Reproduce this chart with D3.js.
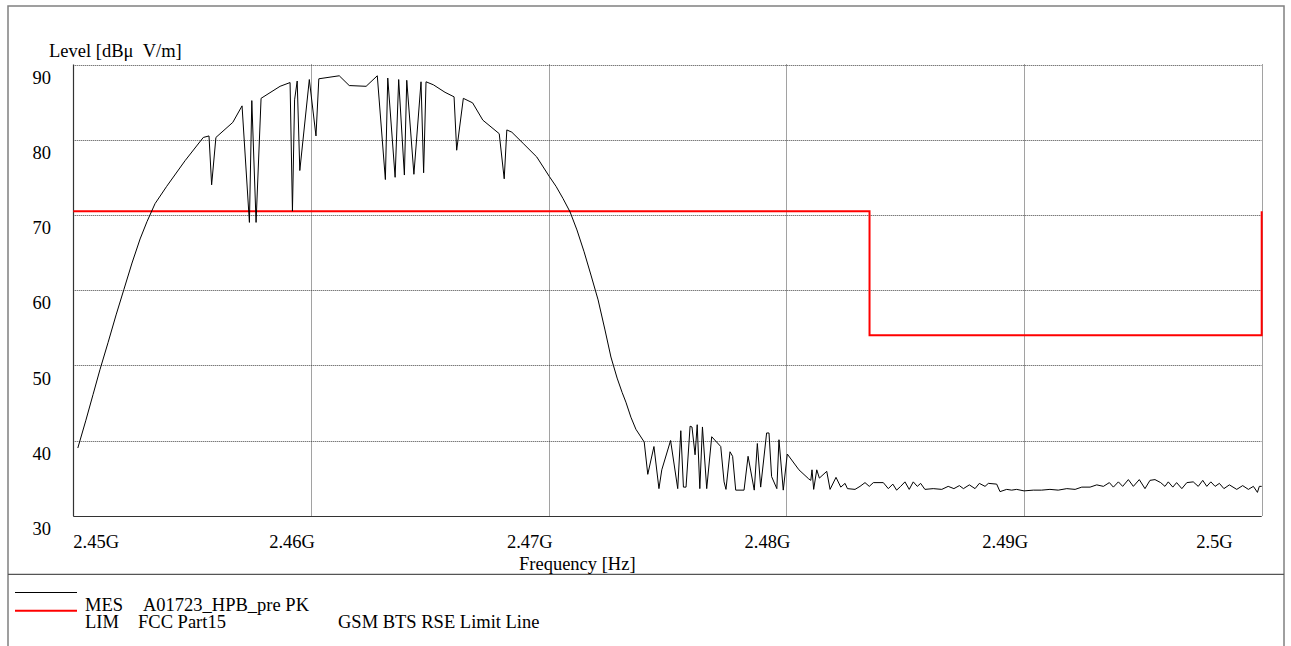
<!DOCTYPE html>
<html>
<head>
<meta charset="utf-8">
<script src="https://cdn.jsdelivr.net/npm/d3@7/dist/d3.min.js"></script>
<style>
  html, body { margin: 0; padding: 0; background: #fff; }
  svg { display: block; }
</style>
</head>
<body>
<svg id="chart" width="1291" height="646"></svg>
<script>
// ---- data ----
const measFreqMHz = [
  2450.19, 2450.53, 2450.83, 2451.12, 2451.46, 2451.80, 2452.13, 2452.47, 2452.81, 2453.10,
  2453.44, 2453.93, 2454.70, 2455.47, 2455.71, 2455.82, 2456.00, 2456.71, 2457.10, 2457.41,
  2457.51, 2457.69, 2457.90, 2458.70, 2459.12, 2459.22, 2459.31, 2459.42, 2459.53, 2459.93,
  2460.21, 2460.33, 2461.19, 2461.61, 2462.32, 2462.79, 2463.13, 2463.23, 2463.54, 2463.69,
  2463.93, 2464.03, 2464.33, 2464.63, 2464.74, 2464.84, 2465.15, 2465.64, 2466.02, 2466.13,
  2466.41, 2466.80, 2467.23, 2467.92, 2468.13, 2468.24, 2468.45, 2468.93, 2469.50, 2470.03,
  2470.31, 2470.60, 2470.90, 2471.19, 2471.49, 2471.78, 2472.08, 2472.37, 2472.62, 2472.88,
  2473.09, 2473.25, 2473.46, 2473.67, 2474.02, 2474.17, 2474.43, 2474.64, 2474.76, 2475.13,
  2475.43, 2475.56, 2475.67, 2475.78, 2475.95, 2476.03, 2476.16, 2476.25, 2476.36, 2476.47,
  2476.65, 2476.86, 2477.24, 2477.38, 2477.46, 2477.63, 2477.74, 2477.87, 2478.22, 2478.39,
  2478.65, 2478.78, 2478.92, 2479.17, 2479.27, 2479.38, 2479.60, 2479.69, 2479.87, 2480.04,
  2480.53, 2480.94, 2481.03, 2481.08, 2481.15, 2481.28, 2481.39, 2481.70, 2481.84, 2482.09,
  2482.29, 2482.47, 2482.57, 2482.89, 2483.10, 2483.31, 2483.49, 2483.66, 2484.08, 2484.29,
  2484.48, 2484.64, 2484.81, 2484.99, 2485.17, 2485.34, 2485.51, 2485.65, 2485.83, 2486.18,
  2486.54, 2486.81, 2487.05, 2487.28, 2487.45, 2487.70, 2487.94, 2488.12, 2488.36, 2488.50,
  2488.85, 2488.99, 2489.27, 2489.48, 2489.69, 2490.00, 2490.39, 2490.74, 2491.09, 2491.44,
  2491.80, 2492.15, 2492.43, 2492.78, 2493.06, 2493.34, 2493.59, 2493.76, 2493.97, 2494.15,
  2494.39, 2494.60, 2494.85, 2495.09, 2495.30, 2495.51, 2495.75, 2495.93, 2496.07, 2496.26,
  2496.42, 2496.64, 2496.85, 2497.12, 2497.33, 2497.52, 2497.69, 2497.86, 2498.04, 2498.22,
  2498.41, 2498.64, 2498.95, 2499.20, 2499.44, 2499.65, 2499.82, 2499.90, 2500.00
];
const measLevelDb = [
  39.0, 42.7, 46.1, 49.4, 53.0, 56.7, 60.1, 63.6, 66.8, 69.1,
  71.5, 73.8, 77.2, 80.3, 80.5, 74.0, 80.3, 82.3, 84.5, 69.0,
  85.2, 69.0, 85.5, 87.1, 87.6, 70.5, 85.3, 87.8, 75.9, 88.0,
  80.5, 88.1, 88.5, 87.2, 87.1, 88.5, 74.7, 88.2, 75.0, 88.0,
  75.3, 87.9, 75.4, 87.7, 75.6, 87.7, 87.3, 86.3, 85.7, 78.6,
  85.5, 84.9, 82.6, 80.8, 74.8, 81.3, 81.0, 79.5, 77.7, 75.1,
  73.8, 72.2, 70.4, 68.0, 65.1, 62.0, 58.7, 54.7, 51.1, 48.3,
  46.4, 45.1, 43.1, 41.5, 39.8, 35.5, 39.2, 33.6, 36.1, 40.0,
  33.6, 41.3, 33.8, 33.8, 41.9, 41.8, 38.1, 42.1, 33.6, 41.8,
  33.6, 40.5, 39.2, 34.5, 33.5, 38.5, 37.9, 33.4, 33.4, 37.9,
  33.4, 39.6, 33.8, 41.0, 41.0, 35.2, 33.6, 40.1, 33.4, 38.2,
  36.1, 34.9, 34.7, 36.1, 33.5, 36.1, 35.0, 35.9, 33.5, 35.1,
  33.8, 34.3, 33.6, 33.5, 33.9, 34.4, 33.9, 34.4, 34.4, 33.6,
  34.2, 33.4, 33.9, 34.5, 33.5, 34.5, 33.9, 34.3, 33.5, 33.6,
  33.5, 33.9, 33.6, 34.0, 33.6, 34.1, 33.6, 34.3, 33.9, 34.3,
  34.2, 33.2, 33.5, 33.4, 33.5, 33.3, 33.4, 33.4, 33.5, 33.4,
  33.6, 33.5, 33.8, 33.8, 34.1, 33.9, 34.4, 33.8, 34.5, 33.9,
  34.8, 33.9, 34.8, 33.6, 34.7, 34.8, 34.4, 33.9, 34.5, 33.8,
  34.4, 33.6, 34.4, 34.5, 33.9, 34.7, 33.9, 34.5, 33.9, 34.3,
  33.6, 34.1, 33.5, 34.0, 33.5, 33.9, 33.1, 33.9, 33.9
];
const limitFreqMHz = [2450, 2483.5, 2483.5, 2500, 2500];
const limitLevelDb = [70.5, 70.5, 54, 54, 70.5];

const xTickValues = [2450, 2460, 2470, 2480, 2490, 2500];
const xTickLabels = ["2.45G", "2.46G", "2.47G", "2.48G", "2.49G", "2.5G"];
const yTickValues = [30, 40, 50, 60, 70, 80, 90];
const yTickLabels = ["30", "40", "50", "60", "70", "80", "90"];

const yAxisTitle = "Level [dBμ\u00a0 V/m]";
const xAxisTitle = "Frequency [Hz]";
const legendRows = [
  { key: "MES", name: "A01723_HPB_pre PK", extra: "" },
  { key: "LIM", name: "FCC Part15", extra: "GSM BTS RSE Limit Line" }
];

// ---- layout ----
const FONT = "'Liberation Serif', Tinos, 'Times New Roman', 'DejaVu Serif', serif";
const svg = d3.select("#chart").attr("font-family", FONT);
const plot = { left: 73.3, right: 1261.7, top: 64.5, bottom: 515.7 };
const x = d3.scaleLinear().domain([2450, 2500]).range([plot.left, plot.right]);
const y = d3.scaleLinear().domain([30, 90]).range([plot.bottom, plot.top]);

// outer frame
svg.append("rect")
  .attr("x", 8).attr("y", 6).attr("width", 1276).attr("height", 700)
  .attr("fill", "none").attr("stroke", "#808080").attr("stroke-width", 1.5);
svg.append("line")
  .attr("x1", 8).attr("x2", 1284).attr("y1", 574.3).attr("y2", 574.3)
  .attr("stroke", "#555").attr("stroke-width", 1.3);

const dotted = { stroke: "#444", width: 1, dash: "1,1" };

// grid lines (including dotted top and right border)
svg.append("g").selectAll("line").data(xTickValues.slice(1)).join("line")
  .attr("x1", d => Math.round(x(d)) + 0.5).attr("x2", d => Math.round(x(d)) + 0.5)
  .attr("y1", plot.top).attr("y2", plot.bottom)
  .attr("stroke", dotted.stroke).attr("stroke-width", dotted.width)
  .attr("stroke-dasharray", dotted.dash);
svg.append("g").selectAll("line").data(yTickValues.slice(1)).join("line")
  .attr("x1", plot.left).attr("x2", plot.right)
  .attr("y1", d => Math.round(y(d)) + 0.5).attr("y2", d => Math.round(y(d)) + 0.5)
  .attr("stroke", dotted.stroke).attr("stroke-width", dotted.width)
  .attr("stroke-dasharray", dotted.dash);

// solid left & bottom axis lines
svg.append("line")
  .attr("x1", Math.round(plot.left) + 0.5).attr("x2", Math.round(plot.left) + 0.5)
  .attr("y1", plot.top).attr("y2", plot.bottom + 0.5)
  .attr("stroke", "#333").attr("stroke-width", 1.2);
svg.append("line")
  .attr("x1", plot.left).attr("x2", plot.right)
  .attr("y1", Math.round(plot.bottom) + 0.5).attr("y2", Math.round(plot.bottom) + 0.5)
  .attr("stroke", "#333").attr("stroke-width", 1.2);

// limit line
const lineGen = d3.line().x(d => x(d[0])).y(d => y(d[1]));
svg.append("path")
  .datum(limitFreqMHz.map((f, i) => [f, limitLevelDb[i]]))
  .attr("d", lineGen)
  .attr("fill", "none").attr("stroke", "#ff0000").attr("stroke-width", 2);

// measurement trace
svg.append("path")
  .datum(measFreqMHz.map((f, i) => [f, measLevelDb[i]]))
  .attr("d", lineGen)
  .attr("fill", "none").attr("stroke", "#000").attr("stroke-width", 1);

// axis tick labels
const fs = 18.5;
svg.append("g").selectAll("text").data(yTickValues).join("text")
  .attr("x", 51).attr("y", d => y(d) + 19.3)
  .attr("text-anchor", "end").attr("font-size", fs)
  .text((d, i) => yTickLabels[i]);

svg.append("g").selectAll("text").data(xTickValues).join("text")
  .attr("x", (d, i) => i === 0 ? x(d) : (i === xTickValues.length - 1 ? x(d) - 29 : x(d) + 4))
  .attr("y", 547.5)
  .attr("text-anchor", (d, i) => i === 0 ? "start" : "end")
  .attr("font-size", fs)
  .text((d, i) => xTickLabels[i]);

// axis titles
svg.append("text").attr("x", 49).attr("y", 57).attr("font-size", fs).text(yAxisTitle);
svg.append("text").attr("x", 519).attr("y", 570).attr("font-size", fs).text(xAxisTitle);

// legend
const legendColors = ["#000", "#ff0000"];
const legendWidths = [1, 2];
svg.append("g").selectAll("line").data(legendRows).join("line")
  .attr("x1", 15).attr("x2", 77)
  .attr("y1", (d, i) => i === 0 ? 592.5 : 610.8).attr("y2", (d, i) => i === 0 ? 592.5 : 610.8)
  .attr("stroke", (d, i) => legendColors[i]).attr("stroke-width", (d, i) => legendWidths[i]);
const lg = svg.append("g").selectAll("g").data(legendRows).join("g")
  .attr("transform", (d, i) => `translate(0, ${i === 0 ? 611 : 628})`);
lg.append("text").attr("x", 85).attr("font-size", fs).text(d => d.key);
lg.append("text").attr("x", (d, i) => i === 0 ? 143 : 138).attr("font-size", fs).text(d => d.name);
lg.append("text").attr("x", 338).attr("font-size", fs).text(d => d.extra);
</script>
</body>
</html>
